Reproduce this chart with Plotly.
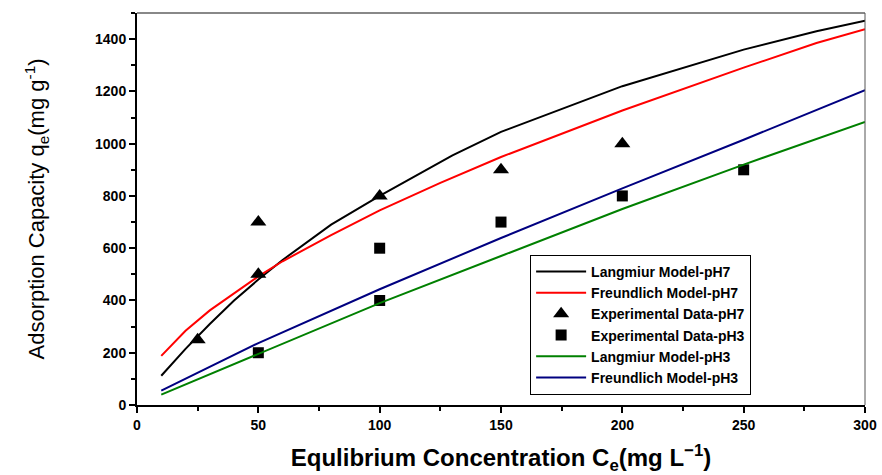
import plotly.graph_objects as go

# Model curves
lang7_x = [10, 20, 30, 40, 50, 60, 80, 100, 130, 150, 200, 250, 280, 300]
lang7_y = [112, 215, 310, 400, 480, 555, 690, 800, 955, 1045, 1220, 1360, 1430, 1470]

freu7_x = [10, 20, 30, 40, 50, 60, 80, 100, 125, 150, 200, 250, 280, 300]
freu7_y = [188, 284, 362, 428, 492, 550, 650, 745, 850, 949, 1127, 1291, 1385, 1438]

lang3_x = [10, 50, 100, 150, 200, 250, 300]
lang3_y = [40, 195, 390, 570, 750, 920, 1083]

freu3_x = [10, 50, 100, 150, 200, 250, 300]
freu3_y = [55, 237, 443, 639, 829, 1015, 1205]

# Experimental data
exp7_x = [25, 50, 50, 100, 150, 200]
exp7_y = [250, 700, 500, 800, 900, 1000]
exp3_x = [50, 100, 100, 150, 200, 250]
exp3_y = [200, 600, 400, 700, 800, 900]

FONT = "Liberation Sans, Arial, sans-serif"

fig = go.Figure()
fig.add_trace(go.Scatter(x=lang7_x, y=lang7_y, mode="lines", name="Langmiur Model-pH7",
                         line=dict(color="black", width=2)))
fig.add_trace(go.Scatter(x=freu7_x, y=freu7_y, mode="lines", name="Freundlich Model-pH7",
                         line=dict(color="#ff0000", width=2)))
fig.add_trace(go.Scatter(x=exp7_x, y=exp7_y, mode="markers", name="Experimental Data-pH7",
                         marker=dict(symbol="triangle-up", size=14, color="black")))
fig.add_trace(go.Scatter(x=exp3_x, y=exp3_y, mode="markers", name="Experimental Data-pH3",
                         marker=dict(symbol="square", size=11, color="black")))
fig.add_trace(go.Scatter(x=lang3_x, y=lang3_y, mode="lines", name="Langmiur Model-pH3",
                         line=dict(color="#008000", width=2)))
fig.add_trace(go.Scatter(x=freu3_x, y=freu3_y, mode="lines", name="Freundlich Model-pH3",
                         line=dict(color="#000080", width=2)))

axis_common = dict(
    showgrid=False, zeroline=False, showline=True, linecolor="black", linewidth=2,
    ticks="outside", ticklen=6, tickwidth=2, tickcolor="black", automargin=False,
    tickfont=dict(family=FONT, size=14, color="black", weight="bold"),
)

fig.update_xaxes(range=[0, 300], tick0=0, dtick=50,
                 minor=dict(ticks="outside", ticklen=4, tickwidth=2, tickcolor="black", dtick=25),
                 title=dict(text="Equlibrium Concentration C<sub>e</sub>(mg L<sup>\u22121</sup>)",
                            font=dict(family=FONT, size=24, color="black", weight="bold"),
                            standoff=18),
                 **axis_common)
fig.update_yaxes(range=[0, 1500], tick0=0, dtick=200,
                 minor=dict(ticks="outside", ticklen=4, tickwidth=2, tickcolor="black", dtick=100),
                 title=dict(text="Adsorption Capacity q<sub>e</sub>(mg g<sup>-1</sup>)",
                            font=dict(family=FONT, size=22, color="black"),
                            standoff=44),
                 **axis_common)

# top and right frame lines
fig.add_shape(type="line", xref="paper", yref="paper", x0=0, x1=1, y0=1, y1=1,
              line=dict(color="#888888", width=2))
fig.add_shape(type="line", xref="paper", yref="paper", x0=1, x1=1, y0=0, y1=1,
              line=dict(color="#555555", width=1))

fig.update_layout(
    width=882, height=475,
    margin=dict(l=137, r=17, t=13, b=70),
    plot_bgcolor="white", paper_bgcolor="white",
    font=dict(family=FONT, color="black"),
    legend=dict(x=0.54, y=0.383, xanchor="left", yanchor="top",
                bgcolor="white", bordercolor="black", borderwidth=1,
                font=dict(family=FONT, size=14, color="black", weight="bold"),
                tracegroupgap=0, itemwidth=50),
    showlegend=True,
)

fig.write_html("out.html")
